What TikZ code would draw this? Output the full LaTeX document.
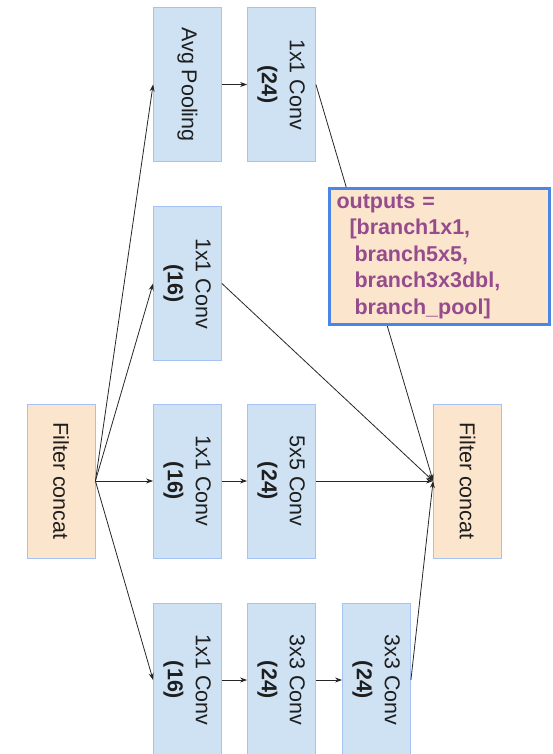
\documentclass[tikz,border=0pt]{standalone}
\usepackage{fontspec}
\setmainfont{Liberation Sans}
\usetikzlibrary{arrows.meta}
\definecolor{boxblue}{HTML}{CFE2F3}
\definecolor{edgeblue}{HTML}{A4C2F4}
\definecolor{concatpeach}{HTML}{FCE5CD}
\definecolor{outblue}{HTML}{4A86E8}
\definecolor{outpurple}{RGB}{150,75,140}
\definecolor{txtgray}{HTML}{1E1E1E}
\newcommand{\convlab}[2]{\rotatebox{-90}{\begin{tabular}{@{}c@{}}#1\\\textbf{#2}\end{tabular}}}
\newcommand{\onelab}[1]{\rotatebox{-90}{#1}}

\begin{document}
\begin{tikzpicture}[x=1pt,y=-1pt,
  layer/.style={draw=edgeblue,fill=boxblue,line width=.8pt,minimum width=68pt,minimum height=154pt,inner sep=0pt,text=txtgray,font=\fontsize{21.5}{28}\selectfont},
  concat/.style={layer,fill=concatpeach},
  flow/.style={draw=black!85,line width=.8pt,-{Stealth[length=7pt,width=5pt]}},
  outbox/.style={draw=outblue,line width=3pt,fill=concatpeach,text=outpurple,font=\bfseries\fontsize{21.5}{26.5}\selectfont,align=left,text width=206pt,inner xsep=7pt,inner ysep=0pt,minimum height=136pt}]
\path[use as bounding box] (0,0) rectangle (553,754);
\node[concat] (inL) at (61,481) {\onelab{Filter concat}};
\node[concat] (outR) at (467.5,481) {\onelab{Filter concat}};
\node[layer] (pool) at (187.5,84.5) {\onelab{Avg Pooling}};
\node[layer] (poolconv) at (281.5,84.5) {\convlab{1x1 Conv}{(24)}};
\node[layer] (b1conv) at (187.5,283.5) {\convlab{1x1 Conv}{(16)}};
\node[layer] (b5red) at (187.5,481) {\convlab{1x1 Conv}{(16)}};
\node[layer] (b5conv) at (281.5,481) {\convlab{5x5 Conv}{(24)}};
\node[layer] (b3red) at (187.5,680) {\convlab{1x1 Conv}{(16)}};
\node[layer] (b3conva) at (281.5,680) {\convlab{3x3 Conv}{(24)}};
\node[layer] (b3convb) at (376.5,680) {\convlab{3x3 Conv}{(24)}};
\draw[flow] (inL.east) -- (pool.west);
\draw[flow] (inL.east) -- (b1conv.west);
\draw[flow] (inL.east) -- (b5red.west);
\draw[flow] (inL.east) -- (b3red.west);
\draw[flow] (pool.east) -- (poolconv.west);
\draw[flow] (b5red.east) -- (b5conv.west);
\draw[flow] (b3red.east) -- (b3conva.west);
\draw[flow] (b3conva.east) -- (b3convb.west);
\draw[flow] (poolconv.east) -- (outR.west);
\draw[flow] (b1conv.east) -- (outR.west);
\draw[flow] (b5conv.east) -- (outR.west);
\draw[flow] (b3convb.east) -- (outR.west);
\node[outbox,anchor=north west] (outs) at (328,187) {outputs =\\
\hspace*{13pt}[branch1x1,\\
\hspace*{18pt}branch5x5,\\
\hspace*{18pt}branch3x3dbl,\\
\hspace*{18pt}branch\_pool]};
\end{tikzpicture}
\end{document}
